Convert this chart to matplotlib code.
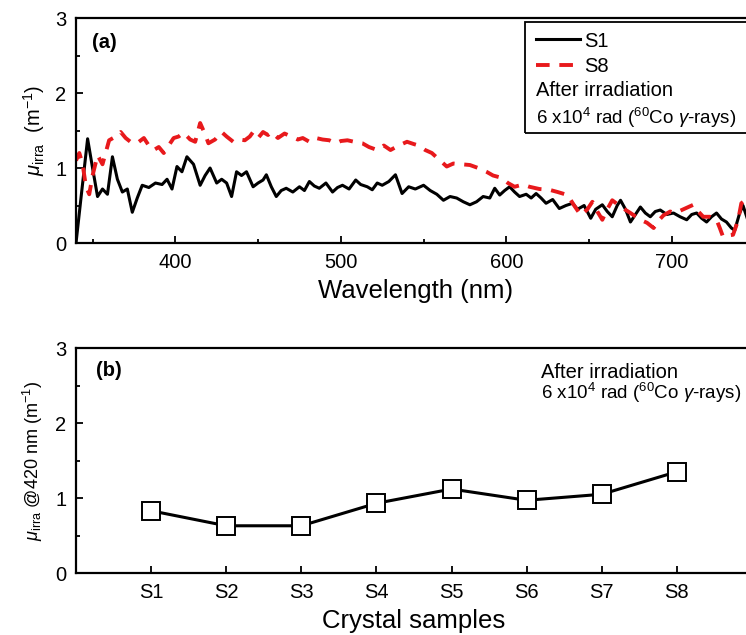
import matplotlib
matplotlib.use('Agg')
import matplotlib.pyplot as plt
from matplotlib.patches import Rectangle
from matplotlib.ticker import MultipleLocator

plt.rcParams['font.family'] = ['Liberation Sans', 'DejaVu Sans']
plt.rcParams['mathtext.fontset'] = 'custom'
plt.rcParams['mathtext.rm'] = 'Liberation Sans'
plt.rcParams['mathtext.it'] = 'Liberation Sans:italic'
plt.rcParams['mathtext.bf'] = 'Liberation Sans:bold'

# panel (a): spectra
wl_s1 = [340, 343, 347, 350, 353, 356, 359, 362, 365, 368, 371, 374, 377, 380, 384, 388,
         392, 395, 398, 401, 404, 407, 411, 415, 418, 421, 425, 428, 431, 434, 437, 440,
         443, 447, 450, 453, 455, 458, 461, 464, 467, 471, 475, 478, 481, 484, 487, 491,
         495, 498, 501, 505, 509, 512, 516, 519, 522, 525, 529, 533, 537, 541, 545, 550,
         554, 558, 562, 566, 570, 574, 578, 582, 586, 590, 593, 596, 599, 602, 605, 608,
         612, 615, 618, 621, 624, 628, 632, 636, 640, 643, 647, 651, 654, 658, 661, 664,
         667, 669, 672, 675, 678, 681, 684, 687, 690, 693, 697, 701, 705, 709, 712, 715,
         718, 721, 724, 727, 730, 733, 736, 738, 741, 743, 746]
mu_s1 = [0.0, 0.6, 1.39, 1.0, 0.62, 0.72, 0.65, 1.15, 0.85, 0.68, 0.72, 0.41, 0.6, 0.77, 0.74, 0.8,
         0.78, 0.85, 0.72, 1.02, 0.95, 1.15, 1.05, 0.77, 0.9, 1.0, 0.8, 0.85, 0.8, 0.62, 0.95, 0.9,
         0.95, 0.75, 0.8, 0.84, 0.91, 0.75, 0.62, 0.7, 0.73, 0.68, 0.75, 0.7, 0.82, 0.76, 0.73, 0.8,
         0.68, 0.74, 0.77, 0.72, 0.84, 0.78, 0.75, 0.71, 0.8, 0.77, 0.82, 0.91, 0.66, 0.75, 0.72, 0.77,
         0.7, 0.65, 0.57, 0.62, 0.6, 0.55, 0.51, 0.55, 0.62, 0.6, 0.73, 0.64, 0.7, 0.75, 0.68, 0.62,
         0.65, 0.6, 0.66, 0.6, 0.53, 0.58, 0.46, 0.5, 0.53, 0.45, 0.5, 0.33, 0.45, 0.51, 0.42, 0.35,
         0.5, 0.57, 0.45, 0.28, 0.38, 0.48, 0.4, 0.35, 0.42, 0.44, 0.38, 0.4, 0.35, 0.31, 0.38, 0.4,
         0.33, 0.28, 0.35, 0.4, 0.32, 0.28, 0.2, 0.17, 0.4, 0.5, 0.3]

wl_s8 = [340, 342, 344, 346, 348, 350, 353, 356, 360, 364, 367, 370, 374, 378, 381, 384,
         387, 390, 393, 396, 399, 402, 405, 409, 412, 415, 418, 420, 424, 428, 431, 435,
         439, 442, 445, 447, 450, 453, 456, 458, 462, 466, 470, 474, 477, 481, 485, 489,
         493, 497, 500, 504, 508, 513, 517, 522, 526, 530, 535, 540, 544, 547, 551, 555,
         560, 564, 568, 573, 578, 583, 588, 592, 597, 601, 605, 610, 614, 620, 626, 631,
         637, 641, 645, 649, 652, 655, 658, 661, 664, 667, 670, 675, 681, 685, 689, 692,
         695, 699, 702, 707, 713, 716, 719, 723, 727, 729, 731, 734, 737, 740, 742, 746]
mu_s8 = [1.1, 1.2, 1.05, 0.75, 0.65, 0.9, 1.17, 1.05, 1.37, 1.42, 1.48, 1.4, 1.33, 1.35, 1.4, 1.3,
         1.24, 1.28, 1.2, 1.3, 1.4, 1.42, 1.47, 1.38, 1.35, 1.6, 1.45, 1.33, 1.38, 1.48, 1.42, 1.35,
         1.38, 1.37, 1.42, 1.48, 1.4, 1.48, 1.44, 1.48, 1.4, 1.46, 1.42, 1.38, 1.4, 1.35, 1.4, 1.38,
         1.37, 1.33, 1.36, 1.37, 1.35, 1.33, 1.28, 1.24, 1.3, 1.24, 1.3, 1.35, 1.32, 1.3, 1.24, 1.2,
         1.1, 1.02, 1.06, 1.05, 1.04, 1.0, 0.95, 0.9, 0.87, 0.8, 0.75, 0.78, 0.75, 0.72, 0.71, 0.68,
         0.64, 0.5, 0.37, 0.45, 0.55, 0.42, 0.31, 0.45, 0.57, 0.52, 0.47, 0.4, 0.31, 0.27, 0.2, 0.3,
         0.37, 0.42, 0.4, 0.45, 0.51, 0.42, 0.35, 0.35, 0.31, 0.2, 0.08, 0.1, 0.11, 0.3, 0.53, 0.6]

# panel (b): value at 420 nm per sample
samples = ['S1', 'S2', 'S3', 'S4', 'S5', 'S6', 'S7', 'S8']
mu_420 = [0.83, 0.63, 0.63, 0.93, 1.12, 0.97, 1.05, 1.35]

dose_text = r'6 x10$^4$ rad ($^{60}$Co $\gamma$-rays)'

fig = plt.figure(figsize=(7.46, 6.35), dpi=100)
ax1 = fig.add_axes([0.1019, 0.6173, 0.9096, 0.3543])
ax2 = fig.add_axes([0.1019, 0.0976, 0.906, 0.3543])

for ax in (ax1, ax2):
    for sp in ax.spines.values():
        sp.set_linewidth(1.6)
    ax.tick_params(which='both', direction='in', labelsize=14.5, width=1.3, pad=7)
    ax.tick_params(which='major', length=5)
    ax.tick_params(which='minor', length=3)
    ax.set_ylim(0, 3)
    ax.yaxis.set_major_locator(MultipleLocator(1))
    ax.yaxis.set_minor_locator(MultipleLocator(0.5))

# (a)
ax1.plot(wl_s1, mu_s1, color='black', lw=2.2, label='S1')
ax1.plot(wl_s8, mu_s8, color='#e8191c', lw=2.8, dashes=(3.5, 2.5), label='S8')
ax1.set_xlim(340, 750)
ax1.xaxis.set_major_locator(MultipleLocator(100))
ax1.xaxis.set_minor_locator(MultipleLocator(50))
ax1.set_xlabel('Wavelength (nm)', fontsize=18.5, labelpad=5)
ax1.set_ylabel(r'$\mu_{\mathrm{irra}}$  (m$^{-1}$)', fontsize=14.5, labelpad=6)
ax1.text(0.024, 0.893, '(a)', transform=ax1.transAxes, fontsize=14.5,
         fontweight='bold', va='center')

ax1.legend(loc='upper left', bbox_to_anchor=(0.678, 0.94), frameon=False,
           fontsize=14.5, handlelength=2.2, handletextpad=0.2, borderpad=0,
           borderaxespad=0, labelspacing=0.32)
ax1.text(0.678, 0.68, 'After irradiation', transform=ax1.transAxes,
         fontsize=14.5, va='center')
ax1.text(0.678, 0.556, dose_text, transform=ax1.transAxes, fontsize=13.5,
         va='center')
ax1.add_patch(Rectangle((0.662, 0.489), 0.5, 0.493, transform=ax1.transAxes,
                        fill=False, lw=1.3, edgecolor='black'))

# (b)
xs = list(range(1, len(samples) + 1))
ax2.plot(xs, mu_420, color='black', lw=2.2, marker='s', markersize=12.5,
         markerfacecolor='white', markeredgecolor='black', markeredgewidth=1.4)
ax2.set_xlim(0, 9)
ax2.set_xticks(xs)
ax2.set_xticklabels(samples)
ax2.set_xlabel('Crystal samples', fontsize=18.5, labelpad=5)
ax2.set_ylabel(r'$\mu_{\mathrm{irra}}$ @420 nm (m$^{-1}$)', fontsize=13, labelpad=7)
ax2.text(0.03, 0.9, '(b)', transform=ax2.transAxes, fontsize=14.5,
         fontweight='bold', va='center')
ax2.text(0.688, 0.893, 'After irradiation', transform=ax2.transAxes,
         fontsize=14.5, va='center')
ax2.text(0.688, 0.8, dose_text, transform=ax2.transAxes, fontsize=13.5,
         va='center')

fig.savefig('out.png', dpi=100)
